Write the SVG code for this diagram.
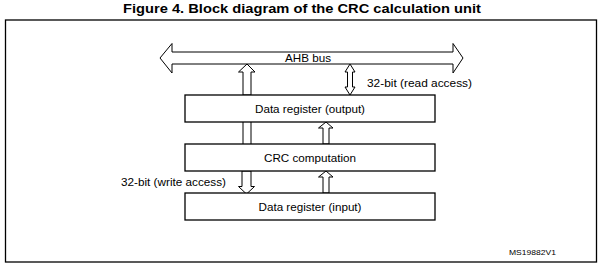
<svg xmlns="http://www.w3.org/2000/svg" width="602" height="269" viewBox="0 0 602 269">
<style>
.t{font-family:"Liberation Sans",Arial,sans-serif;fill:#000}
.box{fill:#fff;stroke:#000;stroke-width:1.3}
.ar{fill:#fff;stroke:#000;stroke-width:1}
</style>
<rect width="602" height="269" fill="#fff"/>
<text class="t" x="123" y="12.5" font-size="12.5" font-weight="bold" textLength="358" lengthAdjust="spacingAndGlyphs">Figure 4. Block diagram of the CRC calculation unit</text>
<rect x="5.5" y="20" width="591" height="242" fill="none" stroke="#000" stroke-width="1.3"/>
<g id="connectors">
<path class="ar" d="M160,58 L172,43.5 L172,52 L453,52 L453,43.5 L463,58 L453,73 L453,64 L172,64 L172,73 Z"/>
<path class="ar" d="M247,64 L255,72 L251,72 L251,95 L243,95 L243,72 L238.5,72 Z"/>
<path class="ar" d="M350,64 L355,72 L352.5,72 L352.5,87 L355,87 L350,95 L345,87 L347.5,87 L347.5,72 L345,72 Z"/>
<path class="ar" d="M243,122 L243,144 M251,122 L251,144"/>
<path class="ar" d="M326,122 L333,128 L329,128 L329,144 L323,144 L323,128 L318.5,128 Z"/>
<path class="ar" d="M242,171 L251,171 L251,186.5 L254.5,186.5 L246.5,194 L238.5,186.5 L242,186.5 Z"/>
<path class="ar" d="M326,171 L333,177 L329,177 L329,193 L323,193 L323,177 L318.5,177 Z"/>
</g>
<text class="t" x="285" y="62" font-size="11" textLength="46" lengthAdjust="spacingAndGlyphs">AHB bus</text>
<text class="t" x="367" y="87" font-size="11" textLength="105" lengthAdjust="spacingAndGlyphs">32-bit (read access)</text>
<text class="t" x="121" y="186" font-size="11" textLength="105" lengthAdjust="spacingAndGlyphs">32-bit (write access)</text>
<g id="output">
<rect class="box" x="185" y="95" width="250" height="27"/>
<text class="t" x="255" y="112.5" font-size="11" textLength="110" lengthAdjust="spacingAndGlyphs">Data register (output)</text>
</g>
<g id="crc">
<rect class="box" x="185" y="144" width="250" height="27"/>
<text class="t" x="264" y="161.5" font-size="11" textLength="92" lengthAdjust="spacingAndGlyphs">CRC computation</text>
</g>
<g id="input">
<rect class="box" x="185" y="193" width="250" height="27"/>
<text class="t" x="258.5" y="210.5" font-size="11" textLength="103" lengthAdjust="spacingAndGlyphs">Data register (input)</text>
</g>
<text class="t" x="509" y="255" font-size="8" textLength="47" lengthAdjust="spacingAndGlyphs">MS19882V1</text>
</svg>
